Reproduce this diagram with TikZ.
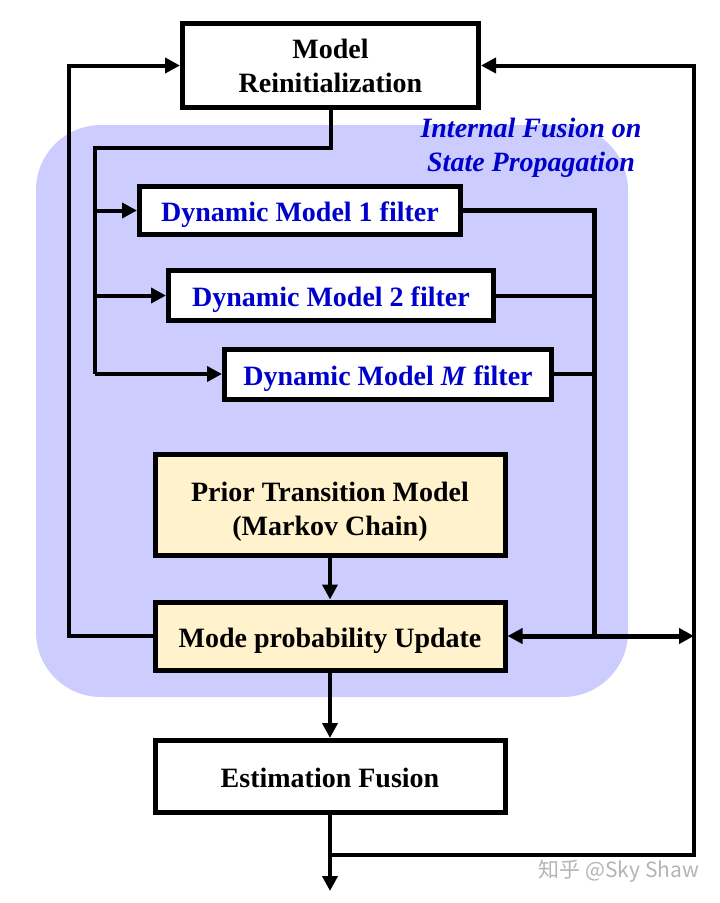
\documentclass[tikz,border=0pt]{standalone}
\usepackage{fontspec}
\setmainfont{Liberation Serif}
\newfontfamily\cjkfont{Noto Sans CJK SC}
\usetikzlibrary{arrows.meta}
\definecolor{regionblue}{RGB}{204,204,255}
\definecolor{textblue}{RGB}{0,0,204}
\definecolor{priorfill}{RGB}{255,242,204}
\definecolor{markgray}{RGB}{180,180,180}

\begin{document}
\begin{tikzpicture}[x=1pt, y=-1pt,
        box/.style={shape=rectangle, draw=black, fill=white, line width=5pt, inner sep=0pt, align=center, font=\fontsize{28}{34}\selectfont\bfseries},
        oneline/.style={text height=22pt, text depth=0pt},
        filterbox/.style={box, oneline, text=textblue},
        priorbox/.style={box, fill=priorfill},
        conn/.style={draw=black, line width=4pt},
        tip/.style={-{Triangle[length=15pt, width=15pt]}},
        twotip/.style={{Triangle[length=15pt, width=15pt]}-{Triangle[length=15pt, width=15pt]}}]
        \useasboundingbox (0,0) rectangle (720,903);
        % shaded region behind the filters
        \fill[regionblue, rounded corners=65pt] (36,125) rectangle (628,697);
        \node[name=reinit, box, minimum width=296pt, minimum height=84pt] at (330.5,65.5) {Model\\Reinitialization};
        \node[name=fusionlabel, text=textblue, align=center, font=\fontsize{28}{34}\selectfont\bfseries\itshape] at (531,148) {Internal Fusion on\\State Propagation};
        \node[name=dyn1, filterbox, minimum width=321pt, minimum height=48pt] at (300,210.5) {Dynamic Model 1 filter};
        \node[name=dyn2, filterbox, minimum width=325pt, minimum height=50pt] at (331,295.5) {Dynamic Model 2 filter};
        \node[name=dynM, filterbox, minimum width=327pt, minimum height=50pt] at (388,374) {Dynamic Model \textit{M} filter};
        \node[name=prior, priorbox, minimum width=350pt, minimum height=101pt] at (330,505) {\rule{0pt}{33pt}Prior Transition Model\\(Markov Chain)};
        \node[name=mode, priorbox, oneline, minimum width=350pt, minimum height=68pt] at (330,636) {Mode probability Update};
        \node[name=est, box, oneline, minimum width=350pt, minimum height=72pt] at (330,776.5) {Estimation Fusion};
        \node[name=mark, text=markgray, font=\cjkfont\fontsize{21}{21}\selectfont] at (619,871) {知乎 @Sky Shaw};
        \coordinate (split) at (95,148);
        \coordinate (bus) at (594,636);
        \coordinate (rightfb) at (694,855);
        \coordinate (leftfb) at (69,65.5);
        \coordinate (outlet) at (330,891);
        % fan-out to the filters
        \draw[conn] (reinit.south) |- (split) -- (split |- dynM.west);
        \foreach \f in {dyn1,dyn2,dynM}
            \draw[conn, tip] (split |- \f.west) -- (\f.west);
        % collect filter outputs
        \draw[conn, line width=5pt] (dyn1.east) -| (bus);
        \draw[conn] (dyn2.east) -- (bus |- dyn2.east);
        \draw[conn] (dynM.east) -- (bus |- dynM.east);
        \draw[conn, line width=5pt, twotip] (mode.east) -- (mode.east -| rightfb);
        \draw[conn, tip] (prior.south) -- (mode.north);
        \draw[conn, tip] (mode.south) -- (est.north);
        \draw[conn, tip] (est.south) -- (outlet);
        % feedback loops
        \draw[conn, tip] (est.south |- rightfb) -- (rightfb) |- (reinit.east);
        \draw[conn, tip] (mode.west) -| (leftfb) -- (reinit.west);
    \end{tikzpicture}
\end{document}
